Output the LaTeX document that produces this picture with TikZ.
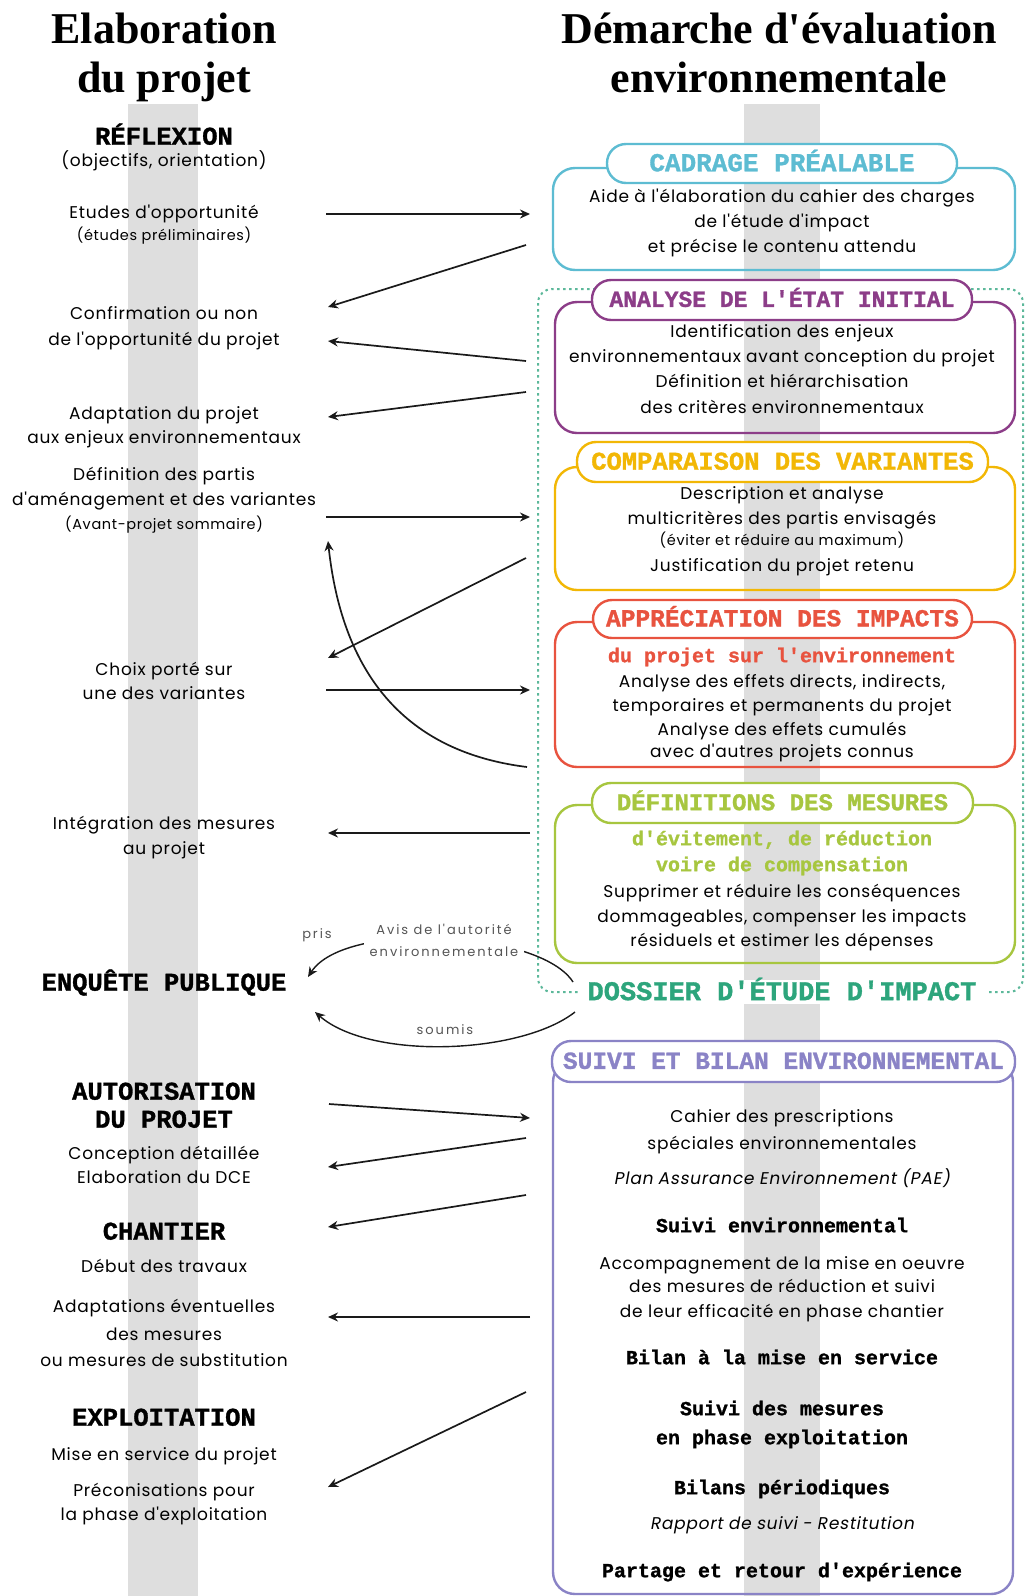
\documentclass[tikz,border=0pt]{standalone}
\usepackage{fontspec}
\setmainfont{Poppins}
\newfontfamily\titlef{Liberation Serif}
\newfontfamily\slab[BoldFeatures={FakeBold=1.2}]{Liberation Mono}
\newfontfamily\sansb[LetterSpace=4.5]{Poppins}
\newfontfamily\sansit[FakeSlant=0.18,LetterSpace=4.5]{Poppins}
\newfontfamily\sanssp[LetterSpace=15]{Poppins}
\usetikzlibrary{arrows.meta}
\definecolor{bandgray}{HTML}{DEDEDE}
\definecolor{cadc}{HTML}{5DBCD2}
\definecolor{anac}{HTML}{8C3D88}
\definecolor{compc}{HTML}{F2B705}
\definecolor{appc}{HTML}{E8533F}
\definecolor{defc}{HTML}{A7C63F}
\definecolor{dosc}{HTML}{2DA57C}
\definecolor{dosdashc}{HTML}{5CB89A}
\definecolor{suic}{HTML}{8A83C6}
\definecolor{arrowc}{HTML}{1A1A1A}
\definecolor{labgray}{HTML}{555555}
\tikzset{
  ttl/.style={font=\titlef\bfseries\fontsize{44}{50}\selectfont, anchor=base, inner sep=0pt},
  slabt/.style={font=\slab\bfseries\fontsize{#1}{#1}\selectfont, text height={0.6*#1pt}, text depth=0pt, inner sep=0pt},
  slabl/.style={font=\slab\bfseries\fontsize{#1}{#1}\selectfont, text height={0.42*#1pt}, text depth=0pt, inner sep=0pt},
  sansl/.style={font=\sansb\fontsize{#1}{#1}\selectfont, text height={0.55*#1pt}, text depth=0pt, inner sep=0pt},
  sansi/.style={font=\sansit\fontsize{#1}{#1}\selectfont, text height={0.55*#1pt}, text depth=0pt, inner sep=0pt},
  boxbody/.style={draw=#1, line width=2.4pt, rounded corners=22pt, inner sep=0pt},
  pill/.style={draw=#1, fill=white, line width=2.4pt, rounded corners=19pt, inner sep=0pt},
  dosdash/.style={draw=dosdashc, line width=2pt, dash pattern=on 2.5pt off 3.5pt, rounded corners=14pt},
  arr/.style={draw=arrowc, line width=1.7pt, -{Stealth[length=10pt,width=9pt]}},
  carr/.style={draw=arrowc, line width=1.4pt, -{Stealth[length=10pt,width=9pt]}},
  glab/.style={font=\sanssp\fontsize{13}{22}\selectfont, text=labgray, align=center},
}
\begin{document}
\begin{tikzpicture}[x=1pt,y=-1pt]
\useasboundingbox (0,0) rectangle (1028,1596);
\fill[white] (0,0) rectangle (1028,1596);
% grey bands
\fill[bandgray] (128,104) rectangle (198,1596);
\fill[bandgray] (744,104) rectangle (820,1596);
% dashed dossier frame
\draw[dosdash] (538,289) rectangle (1023,992);
% box bodies
\node[boxbody=cadc, minimum width=462pt, minimum height=102pt] (cadB) at (784,219) {};
\node[boxbody=anac, minimum width=460pt, minimum height=131pt] (anaB) at (785,367.5) {};
\node[boxbody=compc, minimum width=460pt, minimum height=123pt] (compB) at (785,528.5) {};
\node[boxbody=appc, minimum width=460pt, minimum height=145pt] (appB) at (785,694.5) {};
\node[boxbody=defc, minimum width=460pt, minimum height=158pt] (defB) at (785,884) {};
\node[boxbody=suic, minimum width=460pt, minimum height=534pt] (suiB) at (783,1327) {};
% pills
\node[pill=cadc, minimum width=350pt, minimum height=39pt] (cadP) at (782,163.5) {};
\node[pill=anac, minimum width=380pt, minimum height=40pt] (anaP) at (782,300) {};
\node[pill=compc, minimum width=411pt, minimum height=40pt] (compP) at (782.5,462) {};
\node[pill=appc, minimum width=379pt, minimum height=38pt] (appP) at (782.5,619) {};
\node[pill=defc, minimum width=381pt, minimum height=40pt] (defP) at (782.5,803) {};
\node[pill=suic, minimum width=463pt, minimum height=41pt] (suiP) at (783.5,1061.5) {};
% pill titles
\node[slabt=26, text=cadc] (cadT) at (cadP) {CADRAGE PRÉALABLE};
\node[slabt=23, text=anac] (anaT) at (anaP) {ANALYSE DE L'ÉTAT INITIAL};
\node[slabt=25.5, text=compc] (compT) at (compP) {COMPARAISON DES VARIANTES};
\node[slabt=24.5, text=appc] (appT) at (appP) {APPRÉCIATION DES IMPACTS};
\node[slabt=24, text=defc] (defT) at (defP) {DÉFINITIONS DES MESURES};
\node[slabt=24.5, text=suic] (suiT) at (suiP) {SUIVI ET BILAN ENVIRONNEMENTAL};
\node[slabt=27, text=dosc, fill=white, inner xsep=10pt, inner ysep=4pt] (dosT) at (782,992) {DOSSIER D'ÉTUDE D'IMPACT};
% titles
\node[ttl] (t1) at (164,43) {Elaboration};
\node[ttl] (t2) at (164,92) {du projet};
\node[ttl] (t3) at (779,43) {Démarche d'évaluation};
\node[ttl] (t4) at (779,92) {environnementale};
% left column
\node[slabt=25.5] (l1) at (164,137) {RÉFLEXION};
\node[sansl=17] (l2) at (164,162) {(objectifs, orientation)};
\node[sansl=17] (l3) at (164,214) {Etudes d'opportunité};
\node[sansl=14.5] (l4) at (164,237) {(études préliminaires)};
\node[sansl=17] (l5) at (164,315) {Confirmation ou non};
\node[sansl=17] (l6) at (164,341) {de l'opportunité du projet};
\node[sansl=17] (l7) at (164,415) {Adaptation du projet};
\node[sansl=17] (l8) at (164,439) {aux enjeux environnementaux};
\node[sansl=17] (l9) at (164,476) {Définition des partis};
\node[sansl=17] (l10) at (164,501) {d'aménagement et des variantes};
\node[sansl=14.5] (l11) at (164,526) {(Avant-projet sommaire)};
\node[sansl=17] (l12) at (164,671) {Choix porté sur};
\node[sansl=17] (l13) at (164,695) {une des variantes};
\node[sansl=17] (l14) at (164,825) {Intégration des mesures};
\node[sansl=17] (l15) at (164,850) {au projet};
\node[slabt=25.5] (l16) at (164,983) {ENQUÊTE PUBLIQUE};
\node[slabt=25.5] (l17) at (164,1092) {AUTORISATION};
\node[slabt=25.5] (l18) at (164,1120) {DU PROJET};
\node[sansl=17] (l19) at (164,1155) {Conception détaillée};
\node[sansl=17] (l20) at (164,1179) {Elaboration du DCE};
\node[slabt=25.5] (l21) at (164,1232) {CHANTIER};
\node[sansl=17] (l22) at (164,1268) {Début des travaux};
\node[sansl=17] (l23) at (164,1308) {Adaptations éventuelles};
\node[sansl=17] (l24) at (164,1336) {des mesures};
\node[sansl=17] (l25) at (164,1362) {ou mesures de substitution};
\node[slabt=25.5] (l26) at (164,1418) {EXPLOITATION};
\node[sansl=17] (l27) at (164,1456) {Mise en service du projet};
\node[sansl=17] (l28) at (164,1492) {Préconisations pour};
\node[sansl=17] (l29) at (164,1516) {la phase d'exploitation};
% right column texts
\node[sansl=17] (c1) at (782,197.5) {Aide à l'élaboration du cahier des charges};
\node[sansl=17] (c2) at (782,222.5) {de l'étude d'impact};
\node[sansl=17] (c3) at (782,247.5) {et précise le contenu attendu};
\node[sansl=17] (a1) at (782,333) {Identification des enjeux};
\node[sansl=17] (a2) at (782,358) {environnementaux avant conception du projet};
\node[sansl=17] (a3) at (782,383) {Définition et hiérarchisation};
\node[sansl=17] (a4) at (782,408.5) {des critères environnementaux};
\node[sansl=17] (v1) at (782,495) {Description et analyse};
\node[sansl=17] (v2) at (782,520) {multicritères des partis envisagés};
\node[sansl=14.5] (v3) at (782,542) {(éviter et réduire au maximum)};
\node[sansl=17] (v4) at (782,567) {Justification du projet retenu};
\node[slabl=20, text=appc] (i0) at (782,658) {du projet sur l'environnement};
\node[sansl=17] (i1) at (782,683) {Analyse des effets directs, indirects,};
\node[sansl=17] (i2) at (782,707) {temporaires et permanents du projet};
\node[sansl=17] (i3) at (782,731) {Analyse des effets cumulés};
\node[sansl=17] (i4) at (782,753) {avec d'autres projets connus};
\node[slabl=20, text=defc] (d0) at (782,841) {d'évitement, de réduction};
\node[slabl=20, text=defc] (d1) at (782,867) {voire de compensation};
\node[sansl=17] (d2) at (782,893) {Supprimer et réduire les conséquences};
\node[sansl=17] (d3) at (782,918) {dommageables, compenser les impacts};
\node[sansl=17] (d4) at (782,942) {résiduels et estimer les dépenses};
\node[sansl=17] (s1) at (782,1118) {Cahier des prescriptions};
\node[sansl=17] (s2) at (782,1145) {spéciales environnementales};
\node[sansi=17] (s3) at (782,1180) {Plan Assurance Environnement (PAE)};
\node[slabl=20] (s4) at (782,1228) {Suivi environnemental};
\node[sansl=17] (s5) at (782,1265) {Accompagnement de la mise en oeuvre};
\node[sansl=17] (s6) at (782,1288) {des mesures de réduction et suivi};
\node[sansl=17] (s7) at (782,1313) {de leur efficacité en phase chantier};
\node[slabl=20] (s8) at (782,1360) {Bilan à la mise en service};
\node[slabl=20] (s9) at (782,1411) {Suivi des mesures};
\node[slabl=20] (s10) at (782,1440) {en phase exploitation};
\node[slabl=20] (s11) at (782,1490) {Bilans périodiques};
\node[sansi=17] (s12) at (782,1525) {Rapport de suivi - Restitution};
\node[slabl=20] (s13) at (782,1573) {Partage et retour d'expérience};
% connector end points
\coordinate (e1a) at (326,214);  \coordinate (e1b) at (530,214);
\coordinate (e2a) at (526,245);  \coordinate (e2b) at (328,307);
\coordinate (e3a) at (526,361);  \coordinate (e3b) at (328,341);
\coordinate (e4a) at (526,392);  \coordinate (e4b) at (328,417);
\coordinate (e5a) at (326,517);  \coordinate (e5b) at (530,517);
\coordinate (e6a) at (527,767);  \coordinate (e6b) at (328,541);
\coordinate (e7a) at (526,558);  \coordinate (e7b) at (328,658);
\coordinate (e8a) at (326,690);  \coordinate (e8b) at (530,690);
\coordinate (e9a) at (530,833);  \coordinate (e9b) at (328,833);
\coordinate (p1) at (573,982);   \coordinate (p2) at (308,977);
\coordinate (q1) at (575,1012);  \coordinate (q2) at (315,1012);
\coordinate (e12a) at (329,1104); \coordinate (e12b) at (530,1118);
\coordinate (e13a) at (526,1138); \coordinate (e13b) at (328,1167);
\coordinate (e14a) at (526,1195); \coordinate (e14b) at (328,1227);
\coordinate (e15a) at (530,1317); \coordinate (e15b) at (328,1317);
\coordinate (e16a) at (526,1392); \coordinate (e16b) at (328,1487);
% connectors
\draw[arr] (e1a) -- (e1b);
\draw[arr] (e2a) -- (e2b);
\draw[arr] (e3a) -- (e3b);
\draw[arr] (e4a) -- (e4b);
\draw[arr] (e5a) -- (e5b);
\draw[arr] (e6a) .. controls (430,755) and (345,700) .. (e6b);
\draw[arr] (e7a) -- (e7b);
\draw[arr] (e8a) -- (e8b);
\draw[arr] (e9a) -- (e9b);
\draw[carr] (p1) .. controls (540,930) and (345,920) .. (p2);
\draw[carr] (q1) .. controls (520,1055) and (370,1060) .. (q2);
\draw[arr] (e12a) -- (e12b);
\draw[arr] (e13a) -- (e13b);
\draw[arr] (e14a) -- (e14b);
\draw[arr] (e15a) -- (e15b);
\draw[arr] (e16a) -- (e16b);
% connector labels
\node[glab, fill=white, inner xsep=6pt, inner ysep=3pt] (avis) at (444,940) {Avis de l'autorité\\environnementale};
\node[glab] (pris) at (317,935) {pris};
\node[glab] (soumis) at (445,1030) {soumis};
\end{tikzpicture}
\end{document}
